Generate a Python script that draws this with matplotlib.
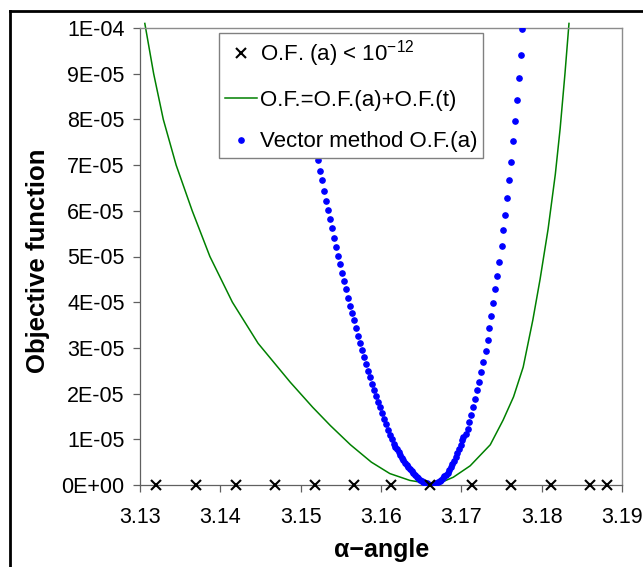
import matplotlib
matplotlib.use("Agg")
import matplotlib.pyplot as plt
from matplotlib.ticker import FuncFormatter
from matplotlib.lines import Line2D

plt.rcParams['font.family'] = ['Liberation Sans', 'DejaVu Sans']
plt.rcParams['mathtext.fontset'] = 'custom'
plt.rcParams['mathtext.rm'] = 'Liberation Sans'

# alpha values where O.F.(a) < 1e-12 (crosses on the axis)
cross_alpha = [3.1320, 3.1370, 3.1419, 3.1468, 3.1518, 3.1566, 3.1612,
               3.1661, 3.1713, 3.1762, 3.1811, 3.1860, 3.1881]
cross_of = [0.0] * len(cross_alpha)

# total objective function O.F.(a)+O.F.(t), green line (units 1e-5)
total_alpha = [3.1306, 3.1317, 3.1329, 3.1345, 3.1365, 3.1387, 3.1415, 3.1447,
               3.1487, 3.1515, 3.1537, 3.1562, 3.1588, 3.1611, 3.1636, 3.1657,
               3.1674, 3.1690, 3.1711, 3.1736, 3.1752, 3.1765, 3.1777, 3.1789,
               3.1798, 3.1808, 3.1817, 3.1823, 3.1829, 3.1834]
total_of = [10.1, 9.0, 8.0, 7.0, 6.0, 5.0, 4.0, 3.1,
            2.25, 1.70, 1.30, 0.88, 0.50, 0.25, 0.10, 0.04,
            0.05, 0.17, 0.42, 0.88, 1.42, 1.93, 2.58, 3.61,
            4.50, 5.60, 6.80, 7.80, 9.00, 10.1]

# vector method O.F.(a), blue dots (units 1e-5)
vector_alpha = [3.15220, 3.15245, 3.15270, 3.15291, 3.15316, 3.15341, 3.15366,
                3.15391, 3.15416, 3.15441, 3.15466, 3.15487, 3.15512, 3.15537,
                3.15562, 3.15587, 3.15608, 3.15633, 3.15658, 3.15690, 3.15711,
                3.15736, 3.15761, 3.15786, 3.15811, 3.15836, 3.15861, 3.15885,
                3.15910, 3.15935, 3.15960, 3.15985, 3.16010, 3.16035, 3.16060,
                3.16085, 3.16110, 3.16135, 3.16159, 3.16178, 3.16197, 3.16218,
                3.16238, 3.16258, 3.16279, 3.16300, 3.16321, 3.16342, 3.16362,
                3.16383, 3.16404, 3.16425, 3.16446, 3.16466, 3.16487, 3.16508,
                3.16528, 3.16549, 3.16570, 3.16590, 3.16611,
                3.16630, 3.16650, 3.16670, 3.16690, 3.16710, 3.16730, 3.16750,
                3.16770, 3.16790, 3.16810, 3.16830, 3.16850, 3.16870, 3.16890,
                3.16910, 3.16930, 3.16950, 3.16970, 3.16990, 3.17010, 3.17026,
                3.17056, 3.17081, 3.17101, 3.17122, 3.17147, 3.17172, 3.17197,
                3.17218, 3.17243, 3.17268, 3.17305, 3.17330, 3.17350, 3.17375,
                3.17400, 3.17425, 3.17450, 3.17475, 3.17500, 3.17520, 3.17545,
                3.17570, 3.17595, 3.17616, 3.17641, 3.17666, 3.17691, 3.17716,
                3.17741, 3.17761]
vector_of = [7.11, 6.88, 6.67, 6.44, 6.22, 6.02, 5.82,
             5.62, 5.40, 5.21, 5.02, 4.83, 4.64, 4.46,
             4.28, 4.09, 3.92, 3.76, 3.61, 3.43, 3.26,
             3.10, 2.95, 2.79, 2.65, 2.50, 2.36, 2.22,
             2.08, 1.95, 1.82, 1.70, 1.57, 1.44, 1.33,
             1.20, 1.10, 1.00, 0.90, 0.84, 0.78, 0.72,
             0.66, 0.60, 0.55, 0.49, 0.44, 0.39, 0.34,
             0.30, 0.26, 0.22, 0.18, 0.15, 0.12, 0.09,
             0.07, 0.05, 0.04, 0.02, 0.01,
             0.00, 0.01, 0.02, 0.04, 0.06, 0.09, 0.12,
             0.15, 0.19, 0.22, 0.27, 0.33, 0.39, 0.46,
             0.53, 0.61, 0.69, 0.78, 0.875, 0.98, 1.04,
             1.11, 1.23, 1.38, 1.53, 1.70, 1.88, 2.08,
             2.26, 2.47, 2.69, 2.93, 3.17, 3.44, 3.70,
             3.99, 4.29, 4.57, 4.89, 5.23, 5.59, 5.90,
             6.27, 6.67, 7.07, 7.52, 7.97, 8.42, 8.90,
             9.42, 9.98]

y_ticks = [i * 1e-5 for i in range(11)]
x_ticks = [3.13, 3.14, 3.15, 3.16, 3.17, 3.18, 3.19]

fig = plt.figure(figsize=(6.43, 5.67), dpi=100)
ax = fig.add_axes([140 / 643, 1 - 485 / 567, 482 / 643, 457 / 567])

ax.plot(total_alpha, [v * 1e-5 for v in total_of], color='#008000', lw=1.1,
        label='O.F.=O.F.(a)+O.F.(t)', clip_on=False, zorder=2)
ax.plot(vector_alpha, [v * 1e-5 for v in vector_of], ls='none', marker='o',
        ms=3.8, color='#0000ff', mec='#0000ff', label='Vector method O.F.(a)', zorder=3)
ax.plot(cross_alpha, cross_of, ls='none', marker='x', ms=7.5, mew=1.5,
        color='black', label=r'O.F. (a) < 10$^{\mathregular{-12}}$', clip_on=False, zorder=4)

ax.set_xlim(3.13, 3.19)
ax.set_ylim(0, 1e-4)
ax.set_xticks(x_ticks)
ax.set_yticks(y_ticks)
ax.xaxis.set_major_formatter(FuncFormatter(lambda v, p: f'{v:.2f}'))
ax.yaxis.set_major_formatter(FuncFormatter(lambda v, p: f'{v:.0E}'))
ax.tick_params(direction='out', length=5, width=0.9, color='#606060',
               labelsize=15.5, labelcolor='black')
ax.tick_params(axis='x', pad=11)
ax.tick_params(axis='y', pad=6)
for side in ['left', 'bottom']:
    ax.spines[side].set_color('#606060')
    ax.spines[side].set_linewidth(0.9)
for side in ['top', 'right']:
    ax.spines[side].set_color('#8c8c8c')
    ax.spines[side].set_linewidth(1.0)

ax.set_ylabel('Objective function', fontsize=18.5, fontweight='bold')
ax.yaxis.set_label_coords(-0.187, 0.49)
ax.set_xlabel('α−angle', fontsize=18, fontweight='bold')
ax.xaxis.set_label_coords(0.502, -0.115)

handles, labels = ax.get_legend_handles_labels()
order = [2, 0, 1]
leg = ax.legend([handles[i] for i in order], [labels[i] for i in order],
                loc='upper left', bbox_to_anchor=(0.164, 0.989), borderaxespad=0,
                fontsize=16, frameon=True, fancybox=False, framealpha=1,
                edgecolor='#808080', handlelength=1.45, handletextpad=0.15,
                borderpad=0.25, labelspacing=0.92, numpoints=1)
leg.get_frame().set_linewidth(1.0)
leg.set_zorder(10)

# outer chart frame (cropped at right and bottom)
fig.add_artist(Line2D([10 / 643, 1.0], [1 - 11 / 567, 1 - 11 / 567],
                      transform=fig.transFigure, color='black', lw=2))
fig.add_artist(Line2D([10 / 643, 10 / 643], [0.0, 1 - 11 / 567],
                      transform=fig.transFigure, color='black', lw=2))

fig.savefig('out.png', dpi=100)
